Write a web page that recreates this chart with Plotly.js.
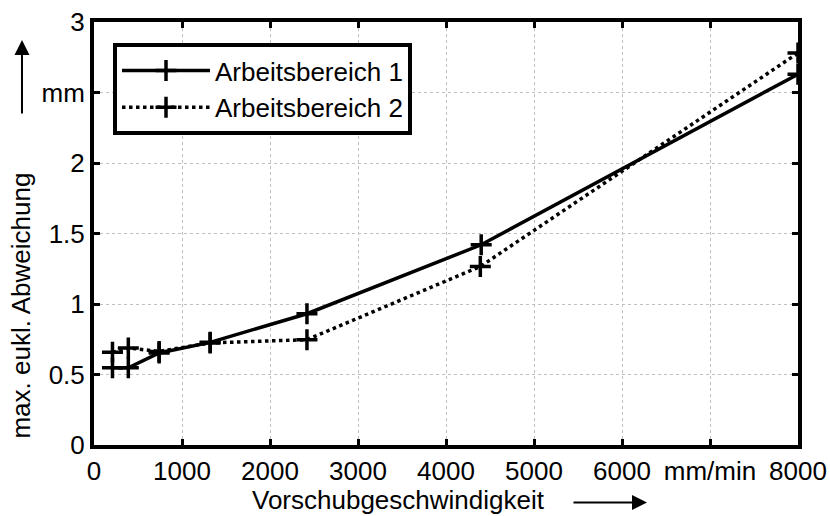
<!DOCTYPE html>
<html>
<head>
<meta charset="utf-8">
<script src="https://cdn.plot.ly/plotly-3.0.1.min.js"></script>
<style>html,body{margin:0;padding:0;background:#fff;}#chart{width:830px;height:516px;}</style>
</head>
<body>
<div id="chart"></div>
<script>
// Data
const feedRates1 = [210, 390, 740, 1320, 2420, 4400, 8000];
const deviation1 = [0.547, 0.547, 0.653, 0.728, 0.931, 1.42, 2.63];
const feedRates2 = [210, 390, 740, 1320, 2420, 4390, 8000];
const deviation2 = [0.657, 0.688, 0.664, 0.724, 0.747, 1.266, 2.78];
const seriesNames = ['Arbeitsbereich 1', 'Arbeitsbereich 2'];
const xTickVals = [0, 1000, 2000, 3000, 4000, 5000, 6000, 7000, 8000];
const xTickText = ['0', '1000', '2000', '3000', '4000', '5000', '6000', 'mm/min', '8000'];
const yTickVals = [0, 0.5, 1, 1.5, 2, 2.5, 3];
const yTickText = ['0', '0.5', '1', '1.5', '2', 'mm', '3'];

const FONT = 'Arial, "Liberation Sans", Helvetica, sans-serif';
const FS = 26;
const marker = {symbol: 'cross-thin-open', size: 15, color: '#000', line: {width: 3.5, color: '#000'}};

const traces = [
  {x: feedRates1, y: deviation1, name: seriesNames[0], mode: 'lines+markers',
   line: {color: '#000', width: 3.5, dash: 'solid'}, marker: marker},
  {x: feedRates2, y: deviation2, name: seriesNames[1], mode: 'lines+markers',
   line: {color: '#000', width: 3.5, dash: 'dot'}, marker: marker}
];

const axisCommon = {
  showline: true, linewidth: 4, linecolor: '#000', mirror: 'ticks',
  ticks: 'inside', ticklen: 6, tickwidth: 3, tickcolor: '#000',
  showgrid: true, gridcolor: '#c0c0c0', gridwidth: 1, griddash: 'dot',
  zeroline: false, tickfont: {family: FONT, size: FS, color: '#000'}
};

const layout = {
  width: 830, height: 516,
  margin: {l: 94, r: 32, t: 22, b: 70.5},
  paper_bgcolor: '#fff', plot_bgcolor: '#fff',
  font: {family: FONT, size: FS, color: '#000'},
  xaxis: Object.assign({}, axisCommon, {range: [0, 8000], tickmode: 'array', tickvals: xTickVals, ticktext: xTickText}),
  yaxis: Object.assign({}, axisCommon, {range: [0, 3], tickmode: 'array', tickvals: yTickVals, ticktext: yTickText}),
  showlegend: true,
  legend: {x: 0.027, y: 0.95, xanchor: 'left', yanchor: 'top', bgcolor: '#fff',
           bordercolor: '#000', borderwidth: 4, font: {family: FONT, size: FS, color: '#000'},
           itemwidth: 88, tracegroupgap: 0},
  annotations: [
    {xref: 'paper', yref: 'paper', x: -0.1035, y: 0.33, xanchor: 'center', yanchor: 'middle',
     text: 'max. eukl. Abweichung', textangle: -90,
     showarrow: false, font: {family: FONT, size: FS, color: '#000'}},
    {xref: 'paper', yref: 'paper', x: 0.433, y: -0.131, xanchor: 'center', yanchor: 'middle',
     text: 'Vorschubgeschwindigkeit',
     showarrow: false, font: {family: FONT, size: FS, color: '#000'}},
    {xref: 'paper', yref: 'paper', x: 0.7855, y: -0.1358, ax: -75, ay: 0, text: '',
     showarrow: true, arrowhead: 2, arrowsize: 1.5, arrowwidth: 2, arrowcolor: '#000'},
    {xref: 'paper', yref: 'paper', x: -0.1023, y: 0.9575, ax: 0, ay: 75, text: '',
     showarrow: true, arrowhead: 2, arrowsize: 1.5, arrowwidth: 2, arrowcolor: '#000'}
  ]
};

Plotly.newPlot('chart', traces, layout, {displayModeBar: false, staticPlot: true});
</script>
</body>
</html>
